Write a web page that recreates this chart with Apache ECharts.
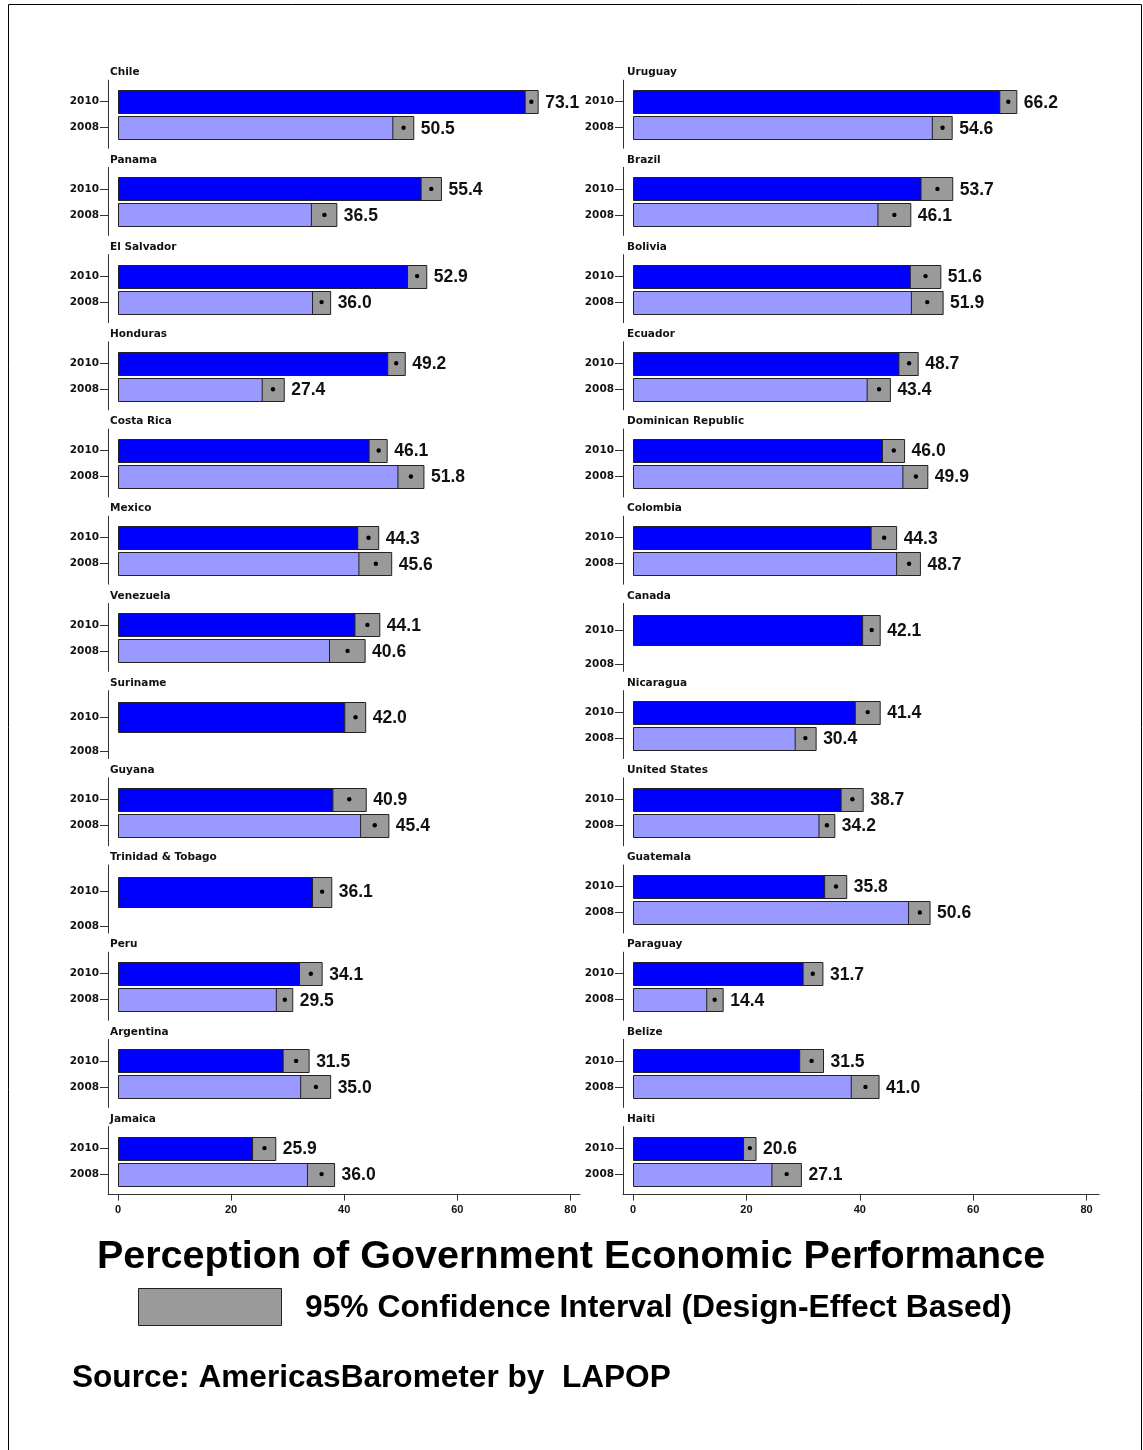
<!DOCTYPE html>
<html><head><meta charset="utf-8">
<script src="https://cdn.jsdelivr.net/npm/echarts@6/dist/echarts.min.js"></script>
<style>html,body{margin:0;padding:0;background:#fff}#c{width:1143px;height:1450px}</style>
</head><body><div id="c"></div>
<script>
const leftCountries = ['Chile','Panama','El Salvador','Honduras','Costa Rica','Mexico','Venezuela','Suriname','Guyana','Trinidad & Tobago','Peru','Argentina','Jamaica'];
const left2010   = [73.1,55.4,52.9,49.2,46.1,44.3,44.1,42.0,40.9,36.1,34.1,31.5,25.9];
const left2008   = [50.5,36.5,36.0,27.4,51.8,45.6,40.6,null,45.4,null,29.5,35.0,36.0];
const left2010Lo = [72.0,53.6,51.2,47.7,44.4,42.4,41.9,40.1,38.0,34.4,32.1,29.2,23.8];
const left2010Hi = [74.3,57.2,54.6,50.8,47.6,46.1,46.3,43.8,43.9,37.8,36.1,33.8,27.9];
const left2008Lo = [48.6,34.2,34.4,25.5,49.5,42.6,37.4,null,42.9,null,28.0,32.3,33.5];
const left2008Hi = [52.3,38.7,37.6,29.4,54.1,48.4,43.7,null,47.9,null,30.9,37.6,38.3];

const rightCountries = ['Uruguay','Brazil','Bolivia','Ecuador','Dominican Republic','Colombia','Canada','Nicaragua','United States','Guatemala','Paraguay','Belize','Haiti'];
const right2010   = [66.2,53.7,51.6,48.7,46.0,44.3,42.1,41.4,38.7,35.8,31.7,31.5,20.6];
const right2008   = [54.6,46.1,51.9,43.4,49.9,48.7,null,30.4,34.2,50.6,14.4,41.0,27.1];
const right2010Lo = [64.7,50.8,48.9,46.9,44.0,42.0,40.5,39.2,36.7,33.8,30.0,29.4,19.5];
const right2010Hi = [67.7,56.4,54.3,50.3,47.9,46.5,43.6,43.6,40.6,37.7,33.5,33.6,21.7];
const right2008Lo = [52.8,43.2,49.1,41.3,47.6,46.5,null,28.6,32.8,48.6,13.0,38.5,24.5];
const right2008Hi = [56.3,49.0,54.7,45.4,52.0,50.7,null,32.3,35.6,52.4,15.9,43.4,29.7];

const yearLabels = ['2010','2008'];
const xTicks = [0,20,40,60,80];
const titleText = 'Perception of Government Economic Performance';
const legendText = '95% Confidence Interval (Design-Effect Based)';
const sourceText = 'Source: AmericasBarometer by  LAPOP';

const BAR_T = 0.885;
const BLUE = '#0000ff', LIGHT = '#9999ff', CI = '#9a9a9a', EDGE = '#222';
const SMALL_FONT = 'DejaVu Sans';

function renderItem(params, api) {
  const yi = api.value(0), mean = api.value(1), lo = api.value(2), hi = api.value(3);
  const c0 = api.coord([0, yi]);
  const cm = api.coord([mean, yi]);
  const cl = api.coord([lo, yi]);
  const ch = api.coord([hi, yi]);
  const h = Math.abs(api.size([0, BAR_T])[1]);
  const y0 = Math.round(c0[1] - h / 2) + 0.5;
  const hh = Math.round(h);
  return {
    type: 'group',
    children: [
      {type: 'rect', shape: {x: Math.round(c0[0]) + 0.5, y: y0, width: cm[0] - c0[0], height: hh},
       style: {fill: yi === 0 ? BLUE : LIGHT, stroke: EDGE, lineWidth: 1}},
      {type: 'rect', shape: {x: cl[0], y: y0, width: ch[0] - cl[0], height: hh},
       style: {fill: CI, stroke: EDGE, lineWidth: 1}},
      {type: 'circle', shape: {cx: cm[0], cy: c0[1], r: 2.2}, style: {fill: '#000'}},
      {type: 'text', style: {text: mean.toFixed(1), x: ch[0] + 7, y: c0[1] + 1,
        fill: '#111', font: 'bold 17.5px "Liberation Sans", Arial, sans-serif', align: 'left', verticalAlign: 'middle'}}
    ]
  };
}

const grids = [], xAxes = [], yAxes = [], series = [], titles = [];
const sides = [
  {countries: leftCountries, v10: left2010, v08: left2008, lo10: left2010Lo, hi10: left2010Hi, lo08: left2008Lo, hi08: left2008Hi,
   left: 108, width: 472, xmax: 81.7, labelX: 110},
  {countries: rightCountries, v10: right2010, v08: right2008, lo10: right2010Lo, hi10: right2010Hi, lo08: right2008Lo, hi08: right2008Hi,
   left: 623, width: 476, xmax: 82.2, labelX: 627}
];
const axisColor = '#333';
sides.forEach((s, si) => {
  s.countries.forEach((name, i) => {
    const gi = si * 13 + i;
    const top = 80.2 + 87.2 * i;
    const single = s.v08[i] === null;
    grids.push({left: s.left, top: top, width: s.width, height: 68});
    xAxes.push({
      gridIndex: gi, type: 'value', min: -1.77, max: s.xmax, show: i === 12,
      axisLine: {show: true, onZero: false, lineStyle: {color: axisColor, width: 1}},
      axisTick: {show: true, customValues: xTicks, length: 6, lineStyle: {color: axisColor}},
      axisLabel: {customValues: xTicks, margin: 10, color: '#111', fontSize: 11, fontWeight: 'bold', fontFamily: 'Liberation Sans'},
      splitLine: {show: false}
    });
    yAxes.push({
      gridIndex: gi, type: 'value', inverse: true,
      min: single ? -0.78 : -0.827, max: single ? 1.21 : 1.788,
      axisLine: {show: true, onZero: false, lineStyle: {color: axisColor, width: 1}},
      axisTick: {show: true, customValues: [0, 1], length: 8, lineStyle: {color: axisColor}},
      axisLabel: {customValues: [0, 1], margin: 9, formatter: v => yearLabels[Math.round(v)],
        color: '#111', fontSize: 10.5, fontWeight: 'bold', fontFamily: SMALL_FONT},
      splitLine: {show: false}
    });
    const data = [[0, s.v10[i], s.lo10[i], s.hi10[i]]];
    if (!single) data.push([1, s.v08[i], s.lo08[i], s.hi08[i]]);
    series.push({type: 'custom', xAxisIndex: gi, yAxisIndex: gi, renderItem: renderItem, data: data, clip: false, silent: true});
    titles.push({text: name, left: s.labelX, top: top - 13, padding: 0,
      textStyle: {fontSize: 10.5, fontWeight: 'bold', fontFamily: SMALL_FONT, color: '#111'}});
  });
});

const chart = echarts.init(document.getElementById('c'), null, {renderer: 'canvas'});
chart.setOption({
  animation: false,
  backgroundColor: '#fff',
  title: titles,
  grid: grids,
  xAxis: xAxes,
  yAxis: yAxes,
  series: series,
  graphic: [
    {type: 'rect', shape: {x: 8.5, y: 4.5, width: 1133, height: 1460}, style: {fill: 'none', stroke: '#000', lineWidth: 1}, silent: true},
    {type: 'text', x: 571, y: 1257, style: {text: titleText, align: 'center', verticalAlign: 'middle',
      font: 'bold 39.5px "Liberation Sans", Arial, sans-serif', fill: '#000'}},
    {type: 'rect', shape: {x: 138.5, y: 1288.5, width: 143, height: 37}, style: {fill: CI, stroke: EDGE, lineWidth: 1}},
    {type: 'text', x: 305, y: 1308, style: {text: legendText, align: 'left', verticalAlign: 'middle',
      font: 'bold 31.8px "Liberation Sans", Arial, sans-serif', fill: '#000'}},
    {type: 'text', x: 72, y: 1378, style: {text: sourceText, align: 'left', verticalAlign: 'middle',
      font: 'bold 31.6px "Liberation Sans", Arial, sans-serif', fill: '#000'}}
  ]
});
</script>
</body></html>
